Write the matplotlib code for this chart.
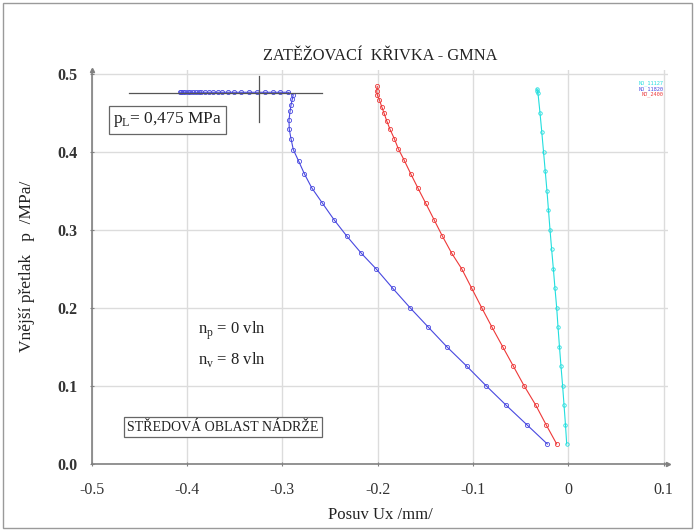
import matplotlib
matplotlib.use("Agg")
import matplotlib.pyplot as plt
from matplotlib.patches import Rectangle

plt.rcParams['font.family'] = ['Liberation Serif', 'DejaVu Serif']

# ND_11820 (blue) - displacement /mm/, pressure /MPa/
blue_x = [-0.022, -0.0437, -0.0654, -0.0864, -0.1066, -0.1276, -0.1469, -0.1661,
          -0.1843, -0.2018, -0.2173, -0.2325, -0.2459, -0.2585, -0.2693, -0.277,
          -0.2829, -0.2886, -0.291, -0.2928, -0.2931, -0.292, -0.291, -0.2896,
          -0.2886, -0.294, -0.3025, -0.3096, -0.318, -0.327, -0.3355, -0.3435,
          -0.3508, -0.357, -0.363, -0.368, -0.373, -0.377, -0.381, -0.385,
          -0.388, -0.391, -0.394, -0.397, -0.3995, -0.402, -0.404, -0.406, -0.4075]
blue_p = [0.025, 0.05, 0.075, 0.1, 0.125, 0.15, 0.175, 0.2,
          0.225, 0.25, 0.27, 0.292, 0.313, 0.335, 0.354, 0.372,
          0.388, 0.403, 0.417, 0.429, 0.441, 0.452, 0.46, 0.468,
          0.4735, 0.4765, 0.4765, 0.4765, 0.4765, 0.4765, 0.4765, 0.4765,
          0.4765, 0.4765, 0.4765, 0.4765, 0.4765, 0.4765, 0.4765, 0.4765,
          0.4765, 0.4765, 0.4765, 0.4765, 0.4765, 0.4765, 0.4765, 0.4765, 0.4765]

# ND_2400 (red)
red_x = [-0.0122, -0.0234, -0.0342, -0.0465, -0.0577, -0.0689, -0.0801, -0.0909,
         -0.1014, -0.1119, -0.1224, -0.1322, -0.1409, -0.1496, -0.158, -0.1654,
         -0.1721, -0.1784, -0.1826, -0.1871, -0.1906, -0.1934, -0.1958, -0.1983,
         -0.2004, -0.201, -0.2005]
red_p = [0.025, 0.05, 0.075, 0.1, 0.125, 0.15, 0.175, 0.2,
         0.225, 0.25, 0.27, 0.292, 0.313, 0.334, 0.354, 0.372,
         0.389, 0.404, 0.417, 0.429, 0.44, 0.45, 0.458, 0.467,
         0.473, 0.4777, 0.484]

# ND_11127 (cyan)
cyan_x = [-0.0017, -0.003, -0.0045, -0.006, -0.0077, -0.0093, -0.0108, -0.0122,
          -0.014, -0.0157, -0.0175, -0.0192, -0.0208, -0.0224, -0.0242, -0.026,
          -0.0278, -0.0297, -0.0318, -0.0325, -0.033]
cyan_p = [0.025, 0.05, 0.075, 0.1, 0.125, 0.15, 0.175, 0.2,
          0.225, 0.25, 0.275, 0.3, 0.325, 0.35, 0.375, 0.4,
          0.425, 0.45, 0.475, 0.478, 0.481]

p_limit = 0.475
x_limit = -0.325

xticks = [-0.5, -0.4, -0.3, -0.2, -0.1, 0, 0.1]
xtick_labels = ['-0.5', '-0.4', '-0.3', '-0.2', '-0.1', '0', '0.1']
yticks = [0.0, 0.1, 0.2, 0.3, 0.4, 0.5]

fig = plt.figure(figsize=(6.95, 5.31), dpi=100)
ax = fig.add_axes([0.1321, 0.1271, 0.8296, 0.7409])

# outer frame around the whole picture
fig.patches.append(Rectangle((0.005, 0.006), 0.99, 0.988, transform=fig.transFigure,
                             fill=False, edgecolor='#9a9a9a', linewidth=1))

ax.plot(cyan_x, cyan_p, color='#22dede', lw=0.8, marker='o', ms=2.5,
        mfc='none', mew=0.6)
ax.plot(red_x, red_p, color='#ee3838', lw=0.8, marker='o', ms=3,
        mfc='none', mew=0.6)
ax.plot(blue_x, blue_p, color='#4848e0', lw=0.8, marker='o', ms=3,
        mfc='none', mew=0.6)

# limit pressure cross
ax.plot([-0.461, -0.2588], [p_limit, p_limit], color='#555555', lw=0.9)
ax.plot([x_limit, x_limit], [0.439, 0.497], color='#555555', lw=0.9)

ax.set_xlim(-0.5, 0.105)
ax.set_ylim(0, 0.505)
ax.set_xticks(xticks)
ax.set_xticklabels(xtick_labels)
ax.set_yticks(yticks)
ax.set_yticklabels(['%.1f' % v for v in yticks], fontweight='bold')
ax.tick_params(labelsize=11.5, length=3, direction='inout', color='#808080',
               labelcolor='#333333')
ax.tick_params(axis='x', pad=12)
ax.tick_params(axis='y', pad=9)
ax.grid(True, color='#dcdcdc', lw=1)
ax.set_axisbelow(True)
for s in ['top', 'right']:
    ax.spines[s].set_visible(False)
for s in ['left', 'bottom']:
    ax.spines[s].set_color('#808080')
    ax.spines[s].set_linewidth(1.2)

# arrowheads at spine ends
ax.plot(1, 0, '>', color='#808080', ms=3, transform=ax.transAxes, clip_on=False)
ax.plot(0, 1, '^', color='#808080', ms=3, transform=ax.transAxes, clip_on=False)

ax.set_title('ZATĚŽOVACÍ  KŘIVKA - GMNA', fontsize=11.8, pad=7, color='#222222')
ax.set_xlabel('Posuv Ux /mm/', fontsize=12, labelpad=6, color='#222222')
ax.set_ylabel('Vnější přetlak   p  /MPa/', fontsize=12.5, labelpad=16,
              color='#222222')

ax.text(-0.4206, 0.4413, r'p$_\mathregular{L}$= 0,475 MPa', fontsize=12.5,
        ha='center', va='center', color='#222222',
        bbox=dict(boxstyle='square,pad=0.25', fc='white', ec='#666666', lw=0.9))
ax.text(-0.389, 0.1697, r'n$_\mathregular{p}$ = 0 vln', fontsize=12,
        ha='left', va='center', color='#222222')
ax.text(-0.389, 0.1335, r'n$_\mathregular{v}$ = 8 vln', fontsize=12,
        ha='left', va='center', color='#222222')
ax.text(-0.3623, 0.0465, 'STŘEDOVÁ OBLAST NÁDRŽE', fontsize=10,
        ha='center', va='center', color='#222222',
        bbox=dict(boxstyle='square,pad=0.25', fc='white', ec='#666666', lw=0.9))

# small legend labels in the corner
ax.text(0.1, 0.486, 'ND_11127', fontsize=3.8, ha='right', color='#22dede',
        family='DejaVu Sans Mono')
ax.text(0.1, 0.479, 'ND_11820', fontsize=3.8, ha='right', color='#4848e0',
        family='DejaVu Sans Mono')
ax.text(0.1, 0.472, 'ND_2400', fontsize=3.8, ha='right', color='#ee3838',
        family='DejaVu Sans Mono')

fig.savefig('out.png', dpi=100)
